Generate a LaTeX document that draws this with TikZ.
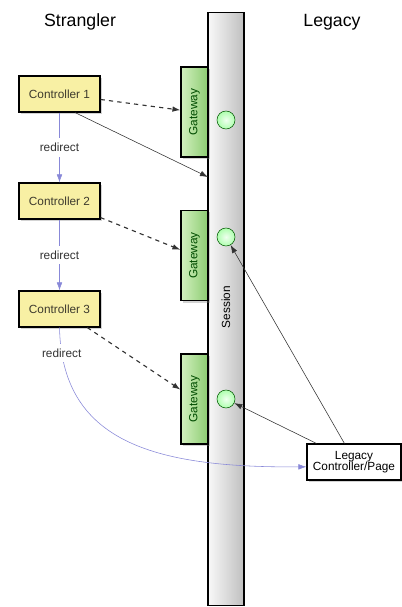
\documentclass[tikz,border=0pt]{standalone}
\usepackage{fontspec}
\setmainfont{Liberation Sans}
\usepackage{xcolor}
\usetikzlibrary{arrows.meta,shadows}

\definecolor{ctrlyellow}{HTML}{F8F0A4}
\definecolor{gwlight}{HTML}{D2F0BE}
\definecolor{gwdark}{HTML}{8CCC72}
\definecolor{redirblue}{HTML}{8888D8}

\tikzset{
  smalltext/.style={font=\fontsize{8.4}{10}\selectfont},
  titletext/.style={font=\fontsize{12.6}{15}\selectfont},
  ctrl/.style={draw,thick,fill=ctrlyellow,smalltext,text=black!75!olive,minimum width=2.025cm,minimum height=0.9cm,inner sep=0pt,
    drop shadow={shadow xshift=0.5mm,shadow yshift=-0.5mm,opacity=0.35}},
  gateway/.style={draw,thick,left color=gwlight,right color=gwdark,
    minimum width=0.675cm,minimum height=2.25cm,inner sep=0pt,
    drop shadow={shadow xshift=0.5mm,shadow yshift=-0.5mm,opacity=0.35}},
  gwtext/.style={smalltext,rotate=90,text=black!70!green},
  bar/.style={draw,thick,left color=gray!5,right color=gray!50,
    minimum width=0.9cm,minimum height=14.8cm,inner sep=0pt},
  dot/.style={circle,draw=green!35!black,shading=radial,inner color=green!6,outer color=green!32!white,
    minimum size=0.45cm,inner sep=0pt},
  calls/.style={-{Latex[length=2mm,width=1.4mm]},black!80},
  hands/.style={calls,dashed,thick},
  redir/.style={-{Latex[length=2mm,width=1.4mm]},redirblue}
}

\begin{document}
\begin{tikzpicture}[x=0.025cm,y=-0.025cm]
\useasboundingbox (0,0) rectangle (402,607);% whole page, one unit = one pixel
\node[titletext] (strangler) at (80,22) {Strangler};% left column title
\node[titletext] (legacytitle) at (332,22) {Legacy};% right column title

\node[bar] (session) at (226,309) {};% session bar
\node[smalltext,rotate=90] (sessionlabel) at (226,307) {Session};

\node[gateway] (gw1) at (194.5,112) {};
\node[gateway] (gw2) at (194.5,255.5) {};
\node[gateway] (gw3) at (194.5,399) {};
\node[gwtext] (gw1label) at (gw1) {Gateway};
\node[gwtext] (gw2label) at (gw2) {Gateway};
\node[gwtext] (gw3label) at (gw3) {Gateway};

\node[dot] (c1) at (226,120) {};
\node[dot] (c2) at (226,237) {};
\node[dot] (c3) at (226,399) {};

\node[ctrl] (ctrl1) at (59.5,94) {Controller 1};
\node[ctrl] (ctrl2) at (59.5,201) {Controller 2};
\node[ctrl] (ctrl3) at (59.5,309) {Controller 3};

\node[draw,thick,fill=white,smalltext,align=center,minimum width=2.35cm,minimum height=0.9cm,inner sep=0pt,
  drop shadow={shadow xshift=0.5mm,shadow yshift=-0.5mm,opacity=0.35}] (legacy) at (354,462) {Legacy\\[-2pt]Controller/Page};

\coordinate (hit1) at (208,177);% where controller 1 meets the session bar

% dashed calls into the gateways
\draw [hands] (ctrl1) -- (gw1);
\draw [hands] (ctrl2) -- (gw2);
\draw [hands] (ctrl3) -- (gw3);
\draw [calls] (ctrl1.310) -- (hit1);

% legacy side reads the session
\draw [calls] ([xshift=0.95cm]legacy.north west) -- (c2);
\draw [calls] ([xshift=0.25cm]legacy.north west) -- (c3);

% redirects
\draw [redir] (ctrl1) -- node[fill=white,smalltext,text=black!80] {redirect} (ctrl2);
\draw [redir] (ctrl2) -- node[fill=white,smalltext,text=black!80] {redirect} (ctrl3);
\draw [redir] (ctrl3.south) .. controls (62,440) and (150,468) .. node[pos=0.08,fill=white,smalltext,text=black!80] {redirect} ([yshift=-0.12cm]legacy.west);
\end{tikzpicture}
\end{document}
